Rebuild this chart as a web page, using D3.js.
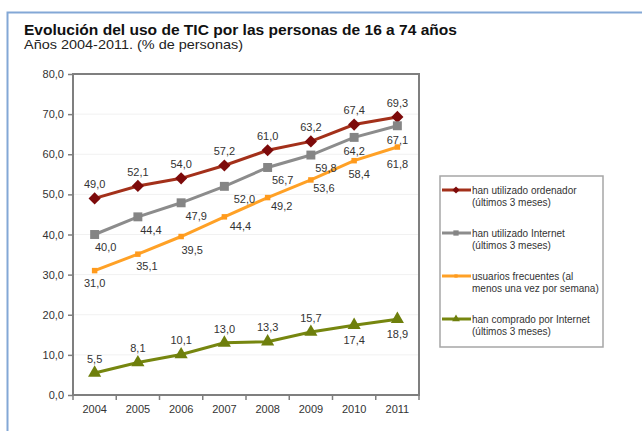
<!DOCTYPE html>
<html>
<head>
<meta charset="utf-8">
<script src="https://cdn.jsdelivr.net/npm/d3@7"></script>
<style>
  html, body { margin: 0; padding: 0; background: #fff; }
  svg { display: block; font-family: "Liberation Sans", Arial, sans-serif; }
</style>
</head>
<body>
<svg id="chart" width="642" height="431"></svg>
<script>
const years = ["2004", "2005", "2006", "2007", "2008", "2009", "2010", "2011"];
const ordenador = [49.0, 52.1, 54.0, 57.2, 61.0, 63.2, 67.4, 69.3];
const internet = [40.0, 44.4, 47.9, 52.0, 56.7, 59.8, 64.2, 67.1];
const frecuentes = [31.0, 35.1, 39.5, 44.4, 49.2, 53.6, 58.4, 61.8];
const comprado = [5.5, 8.1, 10.1, 13.0, 13.3, 15.7, 17.4, 18.9];
const yTicks = [0, 10, 20, 30, 40, 50, 60, 70, 80];
const seriesNames = [
  ["han utilizado ordenador", "(últimos 3 meses)"],
  ["han utilizado Internet", "(últimos 3 meses)"],
  ["usuarios frecuentes (al", "menos una vez por semana)"],
  ["han comprado por Internet", "(últimos 3 meses)"]
];
const title = "Evolución del uso de TIC por las personas de 16 a 74 años";
const subtitle = "Años 2004-2011. (% de personas)";

(function () {
const series = [
  { values: ordenador, line: "#a3301a", mark: "#7d0a0a", shape: d3.symbolSquare, size: 74, rot: 45 },
  { values: internet, line: "#8c8c8c", mark: "#858585", shape: d3.symbolSquare, size: 80, rot: 0 },
  { values: frecuentes, line: "#ffa126", mark: "#ff9a1c", shape: d3.symbolSquare, size: 30, rot: 0 },
  { values: comprado, line: "#76860f", mark: "#6e7f0c", shape: d3.symbolTriangle, size: 75, rot: 0 }
];
// label placement (style, not data): [dx, dy]
const labelPlace = [
  i => [0, -14],
  i => (i >= 6 ? [0, 14] : [[11, 13], [13, 13], [15, 13], [20, 13], [15, 13], [15, 13]][i]),
  i => ([[0, 13], [9, 12], [11, 14], [16, 9], [14, 9], [13, 8], [5, 13], [0, 17]][i]),
  i => (i >= 6 ? [0, 15] : [0, -14])
];

const svg = d3.select("#chart");

// outer blue frame
svg.append("path")
  .attr("d", "M7.5,431 L7.5,12.5 L642,12.5")
  .attr("fill", "none").attr("stroke", "#83a8d6").attr("stroke-width", 2);

svg.append("text").attr("x", 24).attr("y", 35)
  .attr("font-size", 15).attr("font-weight", "bold").attr("fill", "#111")
  .attr("textLength", 433).attr("lengthAdjust", "spacingAndGlyphs")
  .text(title);
svg.append("text").attr("x", 24).attr("y", 49)
  .attr("font-size", 13).attr("fill", "#222")
  .attr("textLength", 219).attr("lengthAdjust", "spacingAndGlyphs")
  .text(subtitle);

const pLeft = 73, pRight = 419, pTop = 74, pBottom = 395;
const x = d3.scaleBand().domain(years).range([pLeft, pRight]);
const y = d3.scaleLinear().domain([0, 80]).range([pBottom, pTop]);

// faint gridlines
svg.append("g").selectAll("line").data(yTicks.filter(d => d > 0 && d < 80)).join("line")
  .attr("x1", pLeft).attr("x2", pRight)
  .attr("y1", d => y(d)).attr("y2", d => y(d))
  .attr("stroke", "#f1f1f1").attr("stroke-width", 1);

// plot box
svg.append("rect").attr("x", pLeft).attr("y", pTop)
  .attr("width", pRight - pLeft).attr("height", pBottom - pTop)
  .attr("fill", "none").attr("stroke", "#7f7f7f").attr("stroke-width", 2);

// y axis
const yAxis = d3.axisLeft(y).tickValues(yTicks).tickSize(5).tickPadding(4)
  .tickFormat(d => d3.format(".1f")(d).replace(".", ","));
const gy = svg.append("g").attr("transform", `translate(${pLeft},0)`).call(yAxis);
gy.select(".domain").remove();
gy.selectAll("line").attr("stroke", "#7f7f7f").attr("stroke-width", 1.5);
gy.selectAll("text").attr("font-size", 11).attr("fill", "#333").attr("font-family", "Liberation Sans, Arial, sans-serif");

// x axis
const xAxis = d3.axisBottom(x).tickSize(0).tickPadding(10);
const gx = svg.append("g").attr("transform", `translate(0,${pBottom})`).call(xAxis);
gx.select(".domain").remove();
gx.selectAll("text").attr("font-size", 11).attr("fill", "#333").attr("font-family", "Liberation Sans, Arial, sans-serif");
// tick marks at band boundaries
const bounds = years.map(d => x(d)).concat([x(years[years.length - 1]) + x.bandwidth()]);
svg.append("g").selectAll("line").data(bounds).join("line")
  .attr("x1", d => d).attr("x2", d => d)
  .attr("y1", pBottom).attr("y2", pBottom + 5)
  .attr("stroke", "#7f7f7f").attr("stroke-width", 1.5);

const cx = d => x(d) + x.bandwidth() / 2;
const line = d3.line().x((d, i) => cx(years[i])).y(d => y(d));

series.forEach((s, si) => {
  const g = svg.append("g");
  g.append("path").datum(s.values).attr("d", line)
    .attr("fill", "none").attr("stroke", s.line).attr("stroke-width", 3);
  g.selectAll("path.m").data(s.values).join("path").attr("class", "m")
    .attr("transform", (d, i) => `translate(${cx(years[i])},${y(d)}) rotate(${s.rot})`)
    .attr("d", d3.symbol().type(s.shape).size(s.size))
    .attr("fill", s.mark);
});

series.forEach((s, si) => {
  svg.append("g").selectAll("text").data(s.values).join("text")
    .attr("x", (d, i) => cx(years[i]) + labelPlace[si](i)[0])
    .attr("y", (d, i) => y(d) + labelPlace[si](i)[1])
    .attr("dy", "0.35em")
    .attr("text-anchor", "middle")
    .attr("font-size", 11).attr("fill", "#333")
    .text(d => d3.format(".1f")(d).replace(".", ","));
});

// legend
const lg = svg.append("g");
lg.append("rect").attr("x", 440).attr("y", 176).attr("width", 163).attr("height", 171)
  .attr("fill", "#fff").attr("stroke", "#a6a6a6").attr("stroke-width", 1.5);
const legendY = [190, 233, 276, 319];
series.forEach((s, si) => {
  const ly = legendY[si];
  lg.append("line").attr("x1", 442).attr("x2", 471).attr("y1", ly).attr("y2", ly)
    .attr("stroke", s.line).attr("stroke-width", 3);
  lg.append("path").attr("transform", `translate(456,${ly}) rotate(${s.rot})`)
    .attr("d", d3.symbol().type(s.shape).size(s.size * 0.35)).attr("fill", s.mark);
  seriesNames[si].forEach((t, k) => {
    lg.append("text").attr("x", 472).attr("y", ly + 4 + k * 12)
      .attr("font-size", 10).attr("fill", "#333").text(t);
  });
});
})();
</script>
</body>
</html>
